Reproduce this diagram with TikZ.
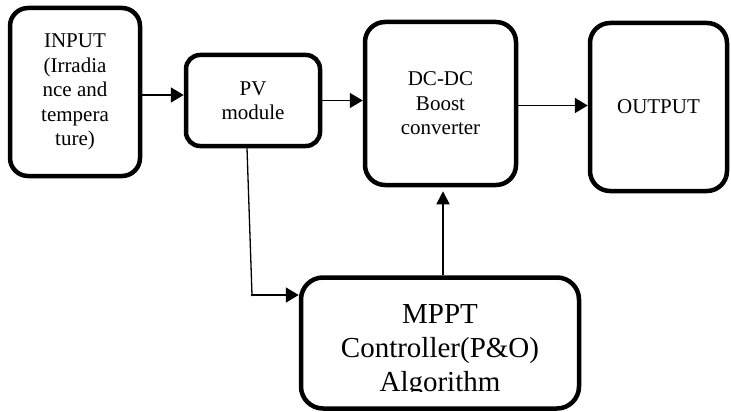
\documentclass[tikz,border=0pt]{standalone}
\usepackage{fontspec}
\setmainfont{Liberation Serif}
\usetikzlibrary{arrows.meta}

\tikzset{
  block/.style={draw, line width=4.5pt, rounded corners=16pt, align=center,
    font=\fontsize{21}{24.5}\selectfont, inner sep=0pt},
  flow/.style={line width=1.8pt, -{Triangle[length=13pt,width=15pt]}},
  bigtext/.style={align=center, inner sep=0pt, font=\fontsize{29}{34}\selectfont}
}

\begin{document}
\begin{tikzpicture}[x=1pt,y=-1pt]
  \useasboundingbox (0,0) rectangle (731,412);

  % blocks
  \node[block, minimum width=130pt, minimum height=168pt, rounded corners=18pt] (in) at (75,92)
    {INPUT\\(Irradia\\nce and\\tempera\\ture)};
  \node[block, minimum width=134pt, minimum height=91pt, rounded corners=14pt] (pv) at (253,100.5)
    {PV\\module};
  \node[block, minimum width=151pt, minimum height=163pt, rounded corners=20pt] (dc) at (440.5,103.5)
    {DC-DC\\Boost\\converter};
  \node[block, minimum width=137pt, minimum height=168pt, rounded corners=20pt] (out) at (658.5,107)
    {OUTPUT};
  \node[block, minimum width=278pt, minimum height=131pt, rounded corners=22pt] (mp) at (440,343) {};

  % controller label, cut off by its text frame
  \begin{scope}
    \clip (303,280) rectangle (577,391);
    \node[bigtext] (mptext) at (440,351.5) {MPPT\\Controller(P\&O)\\Algorithm};
  \end{scope}

  % connectors
  \draw[flow] ([yshift=-3pt]in.east) -- ([yshift=-3pt]in.east -| pv.west);
  \draw[flow] (pv.east) -- (pv.east -| dc.west);
  \draw[flow] ([yshift=-2pt]dc.east) -- ([yshift=-2pt]dc.east -| out.west);
  \draw[flow, line width=1.6pt, -{Triangle[length=13pt,width=13pt]}, shorten >=4pt]
    ([xshift=3pt]mp.north) -- ([xshift=3pt]mp.north |- dc.south);

  \coordinate (corner) at (252,295);
  \draw[line width=1.3pt] ([xshift=-6pt]pv.south) -- (corner);
  \draw[flow] (corner) -- (corner -| mp.west);
  \fill (corner) circle (1.4pt);
\end{tikzpicture}
\end{document}
